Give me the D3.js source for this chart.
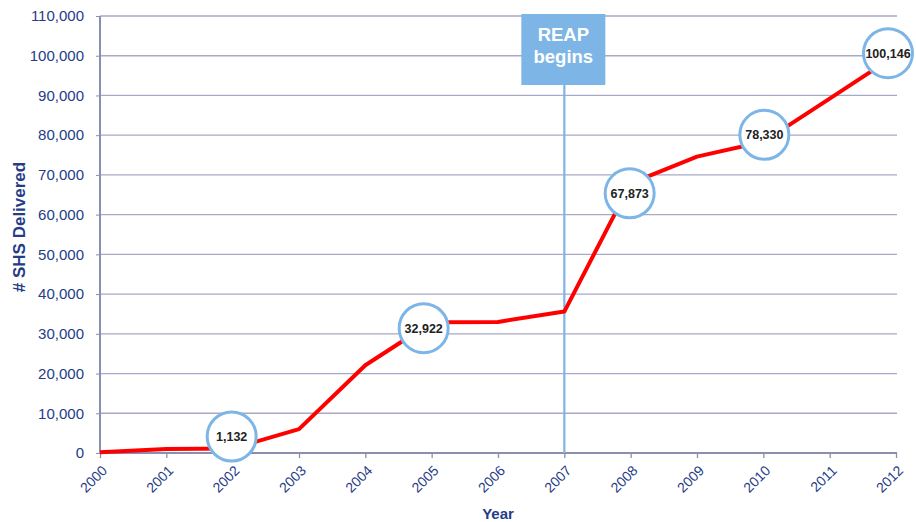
<!DOCTYPE html>
<html>
<head>
<meta charset="utf-8">
<script src="https://cdn.jsdelivr.net/npm/d3@7"></script>
<style>
  body { margin: 0; background: #fff; }
  svg { font-family: Arial, "Liberation Sans", sans-serif; }
</style>
</head>
<body>
<svg width="916" height="522"></svg>
<script>
// data
var years = [2000, 2001, 2002, 2003, 2004, 2005, 2006, 2007, 2008, 2009, 2010, 2011, 2012];
var delivered = [200, 1000, 1132, 6000, 22100, 32922, 33000, 35600, 67873, 74600, 78330, 89200, 100146];
var callouts = [2002, 2005, 2008, 2010, 2012];   // years with a value bubble
var yTicks = d3.range(0, 110001, 10000);
var reapYear = 2007;
var reapText = ["REAP", "begins"];

// bubble nudges (pixels) so they sit like the original
var bubbleNudge = {2002: [-1, -12], 2005: [-8, 6], 2008: [-1, 10], 2010: [1, -7], 2012: [-8, -2]};

var svg = d3.select("svg");
var mLeft = 100, mRight = 896, mTop = 16, mBottom = 453;

var x = d3.scaleLinear().domain([2000, 2012]).range([mLeft, mRight]);
var y = d3.scaleLinear().domain([0, 110000]).range([mBottom, mTop]);

var axisCol = "#8a8fb0", gridCol = "#a7a9c6", textCol = "#253c86";
var blue = "#7db6e6";

// horizontal grid
svg.append("g")
  .selectAll("line")
  .data(yTicks.filter(function(d) { return d > 0; }))
  .enter().append("line")
  .attr("x1", mLeft).attr("x2", mRight + 1)
  .attr("y1", function(d) { return y(d); })
  .attr("y2", function(d) { return y(d); })
  .attr("stroke", gridCol).attr("stroke-width", 1.3);

// y axis
var yAxis = svg.append("g")
  .attr("transform", "translate(" + mLeft + ",0)")
  .call(d3.axisLeft(y).tickValues(yTicks).tickFormat(d3.format(",")).tickSize(4).tickPadding(12));
yAxis.select(".domain").attr("stroke", axisCol).attr("stroke-width", 2).attr("d", "M0," + mTop + "V" + mBottom);
yAxis.selectAll(".tick line").attr("stroke", axisCol);
yAxis.selectAll("text").attr("fill", textCol).style("font-size", "15px");

// x axis
var xAxis = svg.append("g")
  .attr("transform", "translate(0," + mBottom + ")")
  .call(d3.axisBottom(x).tickValues(years).tickFormat(d3.format("d")).tickSize(5));
xAxis.select(".domain").attr("stroke", axisCol).attr("stroke-width", 2).attr("d", "M" + mLeft + ",0H" + (mRight + 1));
xAxis.selectAll(".tick line").attr("stroke", axisCol).attr("stroke-width", 1.3);
xAxis.selectAll("text")
  .attr("fill", textCol)
  .style("font-size", "14px")
  .attr("text-anchor", "end")
  .attr("x", 0).attr("y", 0)
  .attr("dx", 0).attr("dy", "0.35em")
  .attr("transform", "translate(4,15) rotate(-45)");

// REAP marker
var rx = x(reapYear);
svg.append("line")
  .attr("x1", rx).attr("x2", rx)
  .attr("y1", 84).attr("y2", mBottom)
  .attr("stroke", blue).attr("stroke-width", 2.2);
svg.append("rect")
  .attr("x", rx - 43).attr("y", 14)
  .attr("width", 84).attr("height", 71)
  .attr("fill", blue);
svg.append("g").selectAll("text")
  .data(reapText)
  .enter().append("text")
  .attr("x", rx - 1)
  .attr("y", function(d, i) { return 41 + i * 22; })
  .attr("text-anchor", "middle")
  .attr("fill", "#fff")
  .style("font-size", "18.5px").style("font-weight", "bold")
  .text(function(d) { return d; });

// the series
var pts = years.map(function(yr, i) { return {year: yr, value: delivered[i]}; });
svg.append("path")
  .datum(pts)
  .attr("fill", "none")
  .attr("stroke", "#ff0000")
  .attr("stroke-width", 4)
  .attr("stroke-linejoin", "round")
  .attr("d", d3.line().x(function(d) { return x(d.year); }).y(function(d) { return y(d.value); }));

// value bubbles
var bub = svg.append("g").selectAll("g")
  .data(pts.filter(function(d) { return callouts.indexOf(d.year) >= 0; }))
  .enter().append("g")
  .attr("transform", function(d) {
    var n = bubbleNudge[d.year];
    return "translate(" + (x(d.year) + n[0]) + "," + (y(d.value) + n[1]) + ")";
  });
bub.append("circle")
  .attr("r", 24.5)
  .attr("fill", "#fff")
  .attr("stroke", blue)
  .attr("stroke-width", 3);
bub.append("text")
  .attr("text-anchor", "middle")
  .attr("dy", "0.36em")
  .attr("fill", "#222")
  .style("font-size", "12.5px").style("font-weight", "bold")
  .text(function(d) { return d3.format(",")(d.value); });

// axis titles
svg.append("text")
  .attr("transform", "translate(25,227) rotate(-90)")
  .attr("text-anchor", "middle")
  .attr("fill", textCol)
  .style("font-size", "17px").style("font-weight", "bold")
  .text("# SHS Delivered");
svg.append("text")
  .attr("x", 498).attr("y", 519)
  .attr("text-anchor", "middle")
  .attr("fill", textCol)
  .style("font-size", "15px").style("font-weight", "bold")
  .text("Year");
</script>
</body>
</html>
